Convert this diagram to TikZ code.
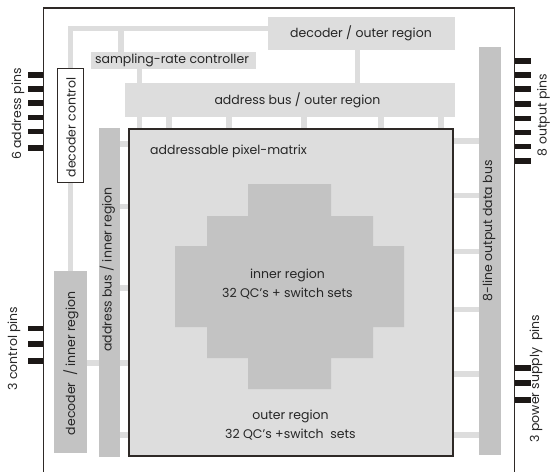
\documentclass[tikz,border=0pt]{standalone}
\usepackage{fontspec}
\setmainfont{Poppins}
\usetikzlibrary{positioning}

\definecolor{busLight}{HTML}{DDDDDD}
\definecolor{busDark}{HTML}{C3C3C3}
\definecolor{pinBlack}{HTML}{1C1816}
\definecolor{edgeDark}{HTML}{2E2926}

\tikzset{
  wire/.style={draw=busLight, line width=5.5pt},
  boxsize/.style 2 args={minimum width=#1pt, minimum height=#2pt},
  lightbox/.style={fill=busLight, inner sep=0pt},
  darkbox/.style={fill=busDark, inner sep=0pt},
  pinbar/.style={fill=pinBlack, inner sep=0pt, minimum width=15pt, minimum height=5.5pt},
  txt/.style={font=\fontsize{12.5}{19}\selectfont, text=black!85, inner sep=0pt, align=center},
  vtxt/.style={txt, rotate=90},
}

\begin{document}
\begin{tikzpicture}[x=1pt, y=-1pt]

  % Page frame
  \useasboundingbox (0,0) rectangle (550,472);

  % Chip outline (open at the bottom)
  \draw[edgeDark, line width=1.4pt] (43.5,472) -- (43.5,8) -- (514.5,8) -- (514.5,472);
  \coordinate (chipL) at (43.5,0);
  \coordinate (chipR) at (514.5,0);

  % Blocks
  \node[lightbox, boxsize={187}{33}] (decout) at (361.5,33.5) {};
  \node[lightbox, boxsize={165}{17}] (sampler) at (173.5,60.5) {};
  \node[lightbox, boxsize={330}{34}] (addrout) at (290,100) {};
  \node[darkbox, boxsize={21}{329}] (addrin) at (109.5,292.5) {};
  \node[darkbox, boxsize={33}{182}] (decin) at (70.5,362) {};
  \node[darkbox, boxsize={22}{408}] (outbus) at (490,251) {};
  \node[fill=white, draw=edgeDark, line width=1.2pt, inner sep=0pt,
        boxsize={26}{114}] (decctrl) at (70.5,125.5) {};
  \node[fill=busLight, draw=edgeDark, line width=1.2pt, inner sep=0pt,
        boxsize={324}{327}] (pixmat) at (291,292.5) {};

  % Wires between the blocks
  \draw[wire] (decctrl.north) -- (decctrl.north |- 0,28.5) -- (decout.west |- 0,28.5);
  \draw[wire] (sampler.north -| 121,0) -- (121,28.5);
  \draw[wire] (sampler.south -| 139.5,0) -- (addrout.north -| 139.5,0);
  \draw[wire] (decout.south -| 357.5,0) -- (addrout.north -| 357.5,0);
  \draw[wire] (decctrl.south) -- (decin.north);
  \draw[wire] (decin.east |- 0,363) -- (addrin.west |- 0,363);
  \foreach \x in {139.5,169,229,304,381,441}
    \draw[wire] (addrout.south -| \x,0) -- (pixmat.north -| \x,0);
  \foreach \y in {144,206.5,288,363,435}
    \draw[wire] (addrin.east |- 0,\y) -- (pixmat.west |- 0,\y);
  \foreach \y in {141,195.5,251.5,309.5,374,435}
    \draw[wire] (pixmat.east |- 0,\y) -- (outbus.west |- 0,\y);

  % redraw the matrix border over the wire ends
  \draw[edgeDark, line width=1.2pt] (pixmat.north west) rectangle (pixmat.south east);

  % Inner region of the matrix
  \fill[busDark] (248,184) -- (331,184) -- (331,216) -- (373,216) -- (373,246)
    -- (404,246) -- (404,327) -- (373,327) -- (373,358) -- (331,358) -- (331,389)
    -- (248,389) -- (248,358) -- (207,358) -- (207,327) -- (175,327) -- (175,246)
    -- (207,246) -- (207,216) -- (248,216) -- cycle;

  % Pins
  \foreach \y [count=\i] in {75,89,103,117.5,131.5,148}
    \node[pinbar, anchor=east] (apin\i) at (chipL |- 0,\y) {};
  \foreach \y [count=\i] in {328.5,344,361}
    \node[pinbar, anchor=east] (cpin\i) at (chipL |- 0,\y) {};
  \foreach \y [count=\i] in {61,75,89,104,118.5,132.5,146.5,161}
    \node[pinbar, anchor=west, minimum width=16pt] (opin\i) at (chipR |- 0,\y) {};
  \foreach \y [count=\i] in {368,383,400}
    \node[pinbar, anchor=west, minimum width=16pt] (ppin\i) at (chipR |- 0,\y) {};

  % Labels
  \node[txt] (decoutText) at (361,33.5) {decoder / outer region};
  \node[txt] (samplerText) at (172,60.5) {sampling-rate controller};
  \node[txt] (addroutText) at (297.5,100.5) {address bus / outer region};
  \node[txt, anchor=west] (pixmatText) at (150,151) {addressable pixel-matrix};
  \node[txt] (innerText) at (287.5,284.5) {inner region\\32 QC's + switch sets};
  \node[txt] (outerText) at (290.5,425.5) {outer region\\32 QC's +switch~ sets};
  \node[vtxt] (decctrlText) at (71,127.5) {decoder control};
  \node[vtxt] (addrinText) at (107.5,269.5) {address bus / inner region};
  \node[vtxt] (decinText) at (71,363.5) {decoder~ / inner region};
  \node[vtxt] (outbusText) at (489,231) {8-line output data bus};
  \node[vtxt] (apinText) at (18,114) {6 address pins};
  \node[vtxt] (cpinText) at (14,348.5) {3 control pins};
  \node[vtxt] (opinText) at (543.5,115) {8 output pins};
  \node[vtxt] (ppinText) at (536,378.5) {3 power supply~ pins};

\end{tikzpicture}
\end{document}
